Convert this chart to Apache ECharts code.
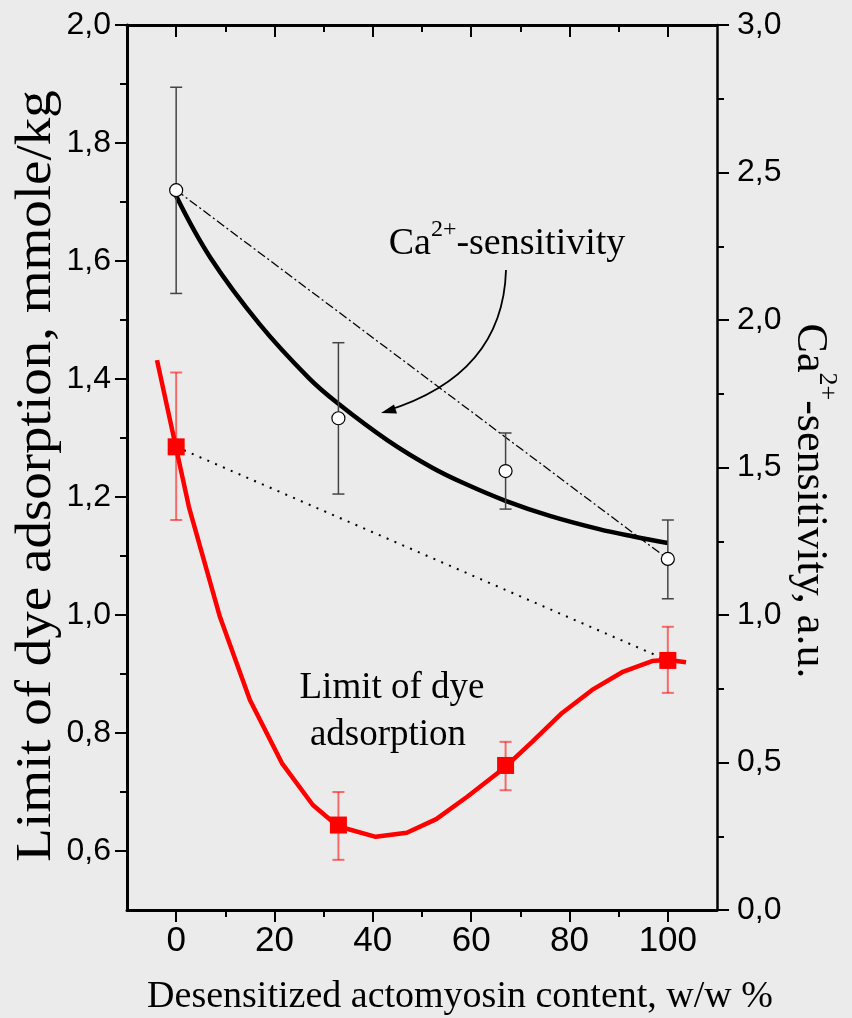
<!DOCTYPE html>
<html>
<head>
<meta charset="utf-8">
<script src="https://cdn.jsdelivr.net/npm/echarts@6/dist/echarts.min.js"></script>
<style>
  html, body { margin: 0; padding: 0; background: #ebebeb; }
  #chart { width: 852px; height: 1018px; }
</style>
</head>
<body>
<div id="chart"></div>
<script>
// measured points (x = desensitized actomyosin, w/w %)
var pointX = [0, 33, 67, 100];
var sensitivity = [2.44, 1.667, 1.488, 1.19];
var sensitivityLow = [2.09, 1.41, 1.359, 1.055];
var sensitivityHigh = [2.789, 1.923, 1.617, 1.322];
var dyeLimit = [1.285, 0.644, 0.745, 0.923];
var dyeLimitLow = [1.161, 0.585, 0.703, 0.868];
var dyeLimitHigh = [1.411, 0.700, 0.785, 0.980];

// fitted curves
var sensFitX = [0, 7, 17, 27, 33, 43, 52, 59, 67, 76, 86, 93, 100];
var sensFitY = [2.42, 2.21, 1.985, 1.803, 1.716, 1.592, 1.50, 1.443, 1.387, 1.336, 1.291, 1.266, 1.244];
var dyeFitX = [-3.9, 2.6, 8.9, 15.0, 21.5, 27.8, 32.9, 40.6, 46.9, 52.9, 59.2, 66.9, 72.4, 78.5, 84.6, 90.7, 96.8, 99.8, 103.7];
var dyeFitY = [1.432, 1.183, 0.997, 0.856, 0.749, 0.678, 0.642, 0.624, 0.631, 0.654, 0.692, 0.742, 0.785, 0.834, 0.873, 0.903, 0.922, 0.924, 0.920];

// ticks
var xTicks = [0, 20, 40, 60, 80, 100];
var xMinorTicks = [10, 30, 50, 70, 90];
var leftTicks = [0.6, 0.8, 1.0, 1.2, 1.4, 1.6, 1.8, 2.0];
var leftMinorTicks = [0.7, 0.9, 1.1, 1.3, 1.5, 1.7, 1.9];
var rightTicks = [0, 0.5, 1.0, 1.5, 2.0, 2.5, 3.0];
var rightMinorTicks = [0.25, 0.75, 1.25, 1.75, 2.25, 2.75];

var labelFont = 'Liberation Sans';
var narrowFont = '"Liberation Sans Narrow", "Arial Narrow", "Liberation Sans"';
var titleFont = 'Liberation Serif';

function pairs(xs, ys) {
    var out = [];
    for (var i = 0; i < xs.length; i++) out.push([xs[i], ys[i]]);
    return out;
}
function bars(xs, lo, hi) {
    var out = [];
    for (var i = 0; i < xs.length; i++) out.push([xs[i], lo[i], hi[i]]);
    return out;
}
function comma(v) {
    return v.toFixed(1).replace('.', ',');
}
function errorBarRenderer(color, width) {
    return function (params, api) {
        var x = api.value(0);
        var top = api.coord([x, api.value(2)]);
        var bot = api.coord([x, api.value(1)]);
        var cap = 6;
        var st = { stroke: color, lineWidth: width };
        return {
            type: 'group',
            children: [
                { type: 'line', shape: { x1: top[0], y1: top[1], x2: bot[0], y2: bot[1] }, style: st },
                { type: 'line', shape: { x1: top[0] - cap, y1: top[1], x2: top[0] + cap, y2: top[1] }, style: st },
                { type: 'line', shape: { x1: bot[0] - cap, y1: bot[1], x2: bot[0] + cap, y2: bot[1] }, style: st }
            ]
        };
    };
}

function xAxisDef(pos, major) {
    return {
        type: 'value', position: pos, min: -10, max: 110, interval: 10,
        splitLine: { show: false },
        axisLine: { show: major, onZero: false, lineStyle: { color: '#000', width: 3 } },
        axisTick: {
            show: true, inside: pos === 'top',
            customValues: major ? xTicks : xMinorTicks,
            length: major ? 12 : 7,
            lineStyle: { color: '#000', width: 2 }
        },
        axisLabel: {
            show: major && pos === 'bottom',
            customValues: xTicks,
            margin: 14,
            fontFamily: narrowFont, fontSize: 35, color: '#000'
        }
    };
}
function yAxisDef(pos, min, max, ticks, minor, major, lineW, margin) {
    return {
        type: 'value', position: pos, min: min, max: max,
        splitLine: { show: false },
        axisLine: { show: major, onZero: false, lineStyle: { color: '#000', width: lineW } },
        axisTick: {
            show: true,
            customValues: major ? ticks : minor,
            length: major ? 12 : 7,
            lineStyle: { color: '#000', width: 2 }
        },
        axisLabel: {
            show: major,
            customValues: ticks,
            margin: margin,
            formatter: comma,
            fontFamily: labelFont, fontSize: 32, color: '#000'
        }
    };
}

var chart = echarts.init(document.getElementById('chart'));
var option = {
    animation: false,
    backgroundColor: '#ebebeb',
    grid: { left: 127, right: 135, top: 25, bottom: 108, outerBoundsMode: 'none' },
    xAxis: [
        xAxisDef('bottom', true),
        xAxisDef('bottom', false),
        xAxisDef('top', true),
        xAxisDef('top', false)
    ],
    yAxis: [
        yAxisDef('left', 0.5, 2.0, leftTicks, leftMinorTicks, true, 3, 16),
        yAxisDef('right', 0, 3.0, rightTicks, rightMinorTicks, true, 2.5, 20),
        yAxisDef('left', 0.5, 2.0, leftTicks, leftMinorTicks, false, 3, 16),
        yAxisDef('right', 0, 3.0, rightTicks, rightMinorTicks, false, 2.5, 20)
    ],
    series: [
        {
            type: 'line', name: 'dye link', yAxisIndex: 0, z: 2,
            data: [[pointX[0], dyeLimit[0]], [pointX[3], dyeLimit[3]]],
            showSymbol: false, symbol: 'none',
            lineStyle: { color: '#000', width: 2, type: [2, 6.5] }
        },
        {
            type: 'line', name: 'sens link', yAxisIndex: 1, z: 2,
            data: [[pointX[0], sensitivity[0]], [pointX[3], sensitivity[3]]],
            showSymbol: false, symbol: 'none',
            lineStyle: { color: '#000', width: 1.3, type: [9, 3, 2, 3] }
        },
        {
            type: 'line', name: 'dye fit', yAxisIndex: 0, z: 3,
            data: pairs(dyeFitX, dyeFitY),
            showSymbol: false, symbol: 'none',
            lineStyle: { color: '#ff0000', width: 4.5 }
        },
        {
            type: 'line', name: 'sens fit', yAxisIndex: 1, z: 3,
            data: pairs(sensFitX, sensFitY),
            smooth: 0.4, showSymbol: false, symbol: 'none',
            lineStyle: { color: '#000', width: 4.5 }
        },
        {
            type: 'custom', name: 'dye err', yAxisIndex: 0, z: 4,
            data: bars(pointX, dyeLimitLow, dyeLimitHigh),
            renderItem: errorBarRenderer('rgba(255,0,0,0.55)', 2)
        },
        {
            type: 'custom', name: 'sens err', yAxisIndex: 1, z: 4,
            data: bars(pointX, sensitivityLow, sensitivityHigh),
            renderItem: errorBarRenderer('#444', 1.5)
        },
        {
            type: 'scatter', name: 'dye', yAxisIndex: 0, z: 5,
            data: pairs(pointX, dyeLimit),
            symbol: 'rect', symbolSize: 17,
            itemStyle: { color: '#ff0000', opacity: 1 }
        },
        {
            type: 'scatter', name: 'sens', yAxisIndex: 1, z: 5,
            data: pairs(pointX, sensitivity),
            symbol: 'circle', symbolSize: 13,
            itemStyle: { color: '#fff', borderColor: '#000', borderWidth: 1.2, opacity: 1 }
        }
    ],
    graphic: [
        {
            type: 'text', x: 460, y: 997,
            style: { text: 'Desensitized actomyosin content, w/w %', fontFamily: titleFont, fontSize: 38,
                     fill: '#000', align: 'center', verticalAlign: 'middle' }
        },
        {
            type: 'text', x: 37, y: 476, rotation: Math.PI / 2, scaleX: 1.1,
            style: { text: 'Limit of dye adsorption, mmole/kg', fontFamily: titleFont, fontSize: 50,
                     fill: '#000', align: 'center', verticalAlign: 'middle' }
        },
        {
            type: 'text', x: 810, y: 501, rotation: -Math.PI / 2,
            style: {
                text: '{n|Ca}{s|2+}{n|-sensitivity, a.u.}',
                align: 'center', verticalAlign: 'middle',
                rich: {
                    n: { fontFamily: titleFont, fontSize: 44, lineHeight: 60, fill: '#000', color: '#000' },
                    s: { fontFamily: titleFont, fontSize: 26, fill: '#000', color: '#000', verticalAlign: 'top' }
                }
            }
        },
        {
            type: 'text', x: 507, y: 244,
            style: {
                text: '{n|Ca}{s|2+}{n|-sensitivity}',
                align: 'center', verticalAlign: 'middle',
                rich: {
                    n: { fontFamily: titleFont, fontSize: 38, lineHeight: 52, fill: '#000', color: '#000' },
                    s: { fontFamily: titleFont, fontSize: 24, fill: '#000', color: '#000', verticalAlign: 'top' }
                }
            }
        },
        {
            type: 'text', x: 392, y: 688,
            style: { text: 'Limit of dye', fontFamily: titleFont, fontSize: 37, fill: '#000',
                     align: 'center', verticalAlign: 'middle' }
        },
        {
            type: 'text', x: 388, y: 735,
            style: { text: 'adsorption', fontFamily: titleFont, fontSize: 37, fill: '#000',
                     align: 'center', verticalAlign: 'middle' }
        },
        {
            type: 'bezierCurve',
            shape: { x1: 506, y1: 270, x2: 386, y2: 411, cpx1: 503, cpy1: 375 },
            style: { stroke: '#000', lineWidth: 1.8, fill: null }
        },
        {
            type: 'polygon',
            shape: { points: [[381, 413], [397, 413.5], [394, 404.5]] },
            style: { fill: '#000' }
        }
    ]
};
chart.setOption(option);
</script>
</body>
</html>
